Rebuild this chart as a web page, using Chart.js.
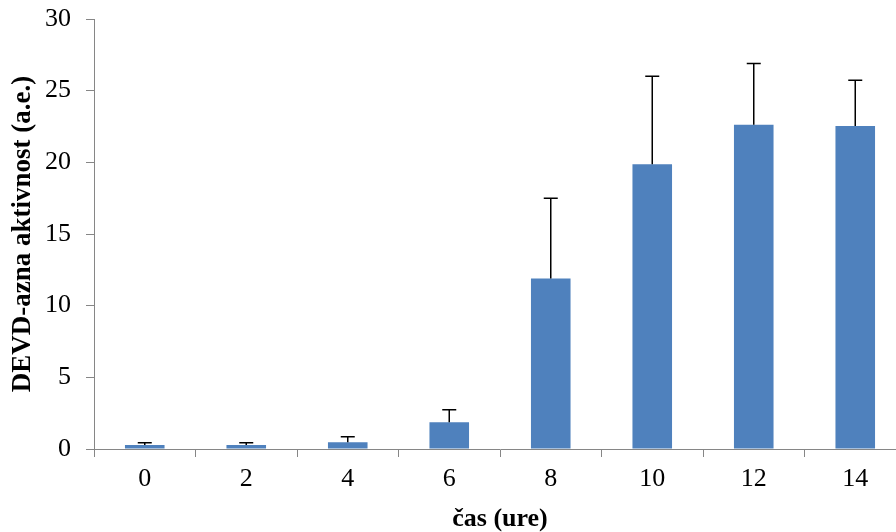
<!DOCTYPE html>
<html>
<head>
<meta charset="utf-8">
<script src="https://cdn.jsdelivr.net/npm/chart.js@4/dist/chart.umd.min.js"></script>
<style>
  html, body { margin: 0; padding: 0; background: #fff; overflow: hidden; }
  #wrap { width: 910px; height: 532px; position: relative; }
</style>
</head>
<body>
<div id="wrap"><canvas id="c" width="910" height="532"></canvas></div>
<script>
// DEVD-ase activity over time (hours), mean with upper standard deviation
const hours = ['0', '2', '4', '6', '8', '10', '12', '14'];
const activity = [0.28, 0.28, 0.47, 1.86, 11.9, 19.86, 22.63, 22.54];
const activitySd = [0.16, 0.16, 0.39, 0.88, 5.6, 6.14, 4.27, 3.18];
const yTicks = [0, 5, 10, 15, 20, 25, 30];

const serif = '"Liberation Serif", "Times New Roman", serif';
const axisGray = '#868686';

// Draws the upper error whisker with a cap above each bar
const upperErrorBars = {
  id: 'upperErrorBars',
  afterDatasetsDraw(chart) {
    const meta = chart.getDatasetMeta(0);
    const yScale = chart.scales.y;
    const ctx = chart.ctx;
    ctx.save();
    ctx.strokeStyle = '#000';
    ctx.lineWidth = 1.5;
    meta.data.forEach((bar, i) => {
      const x = bar.x;
      const yBase = yScale.getPixelForValue(activity[i]);
      const yTop = yScale.getPixelForValue(activity[i] + activitySd[i]);
      ctx.beginPath();
      ctx.moveTo(x, yBase);
      ctx.lineTo(x, yTop);
      ctx.moveTo(x - 7, yTop);
      ctx.lineTo(x + 7, yTop);
      ctx.stroke();
    });
    ctx.restore();
  }
};

new Chart(document.getElementById('c'), {
  type: 'bar',
  data: {
    labels: hours,
    datasets: [{
      data: activity,
      backgroundColor: '#4F81BD',
      borderWidth: 0,
      barPercentage: 0.39,
      categoryPercentage: 1.0
    }]
  },
  options: {
    responsive: false,
    animation: false,
    devicePixelRatio: 1,
    layout: { padding: { left: 0, right: 4, top: 19, bottom: 0 } },
    plugins: { legend: { display: false }, tooltip: { enabled: false } },
    scales: {
      x: {
        grid: { offset: true, drawOnChartArea: false, drawTicks: true, tickLength: 8, color: axisGray },
        border: { color: axisGray, width: 1 },
        ticks: { color: '#000', font: { family: serif, size: 26 }, padding: 7 },
        title: {
          display: true,
          text: 'čas (ure)',
          color: '#000',
          font: { family: serif, size: 26, weight: 'bold' },
          padding: { top: 4, bottom: -3 }
        },
        afterFit(scale) {
          scale.height = 83;
          scale.paddingLeft = 0;
          scale.paddingRight = 0;
        }
      },
      y: {
        min: 0,
        max: 30,
        afterBuildTicks(scale) { scale.ticks = yTicks.map(v => ({ value: v })); },
        grid: { drawOnChartArea: false, drawTicks: true, tickLength: 8, color: axisGray },
        border: { color: axisGray, width: 1 },
        ticks: { color: '#000', font: { family: serif, size: 26 }, padding: 15 },
        title: {
          display: true,
          text: 'DEVD-azna aktivnost (a.e.)',
          color: '#000',
          font: { family: serif, size: 27, weight: 'bold' },
          padding: { top: 7, bottom: 0 }
        },
        afterFit(scale) {
          scale.width = 94;
          scale.paddingTop = 0;
          scale.paddingBottom = 0;
        }
      }
    }
  },
  plugins: [upperErrorBars]
});
</script>
</body>
</html>
